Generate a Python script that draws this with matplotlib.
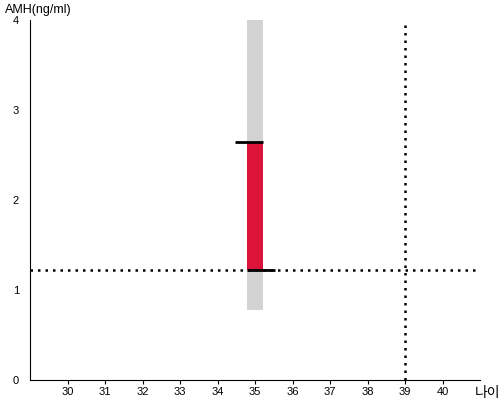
import matplotlib.pyplot as plt

plt.rcParams['font.family'] = ['Liberation Sans', 'Noto Sans CJK KR', 'DejaVu Sans']

# data
age = 35
range_low = 0.78
range_high = 4.0
amh_low = 1.22
amh_high = 2.65
ref_age = 39
ref_amh = 1.22
x_ticks = list(range(30, 41))
y_ticks = [0, 1, 2, 3, 4]

fig = plt.figure(figsize=(5, 4), dpi=100)
ax = fig.add_axes([0.06, 0.05, 0.90, 0.90])

w = 0.43
ax.bar(age, range_high - range_low, bottom=range_low, width=w, color='#d3d3d3', zorder=1)
ax.bar(age, amh_high - amh_low, bottom=amh_low, width=w, color='#dc143c', zorder=2)
ax.hlines(amh_high, age - w / 2 - 0.32, age + w / 2, color='black', lw=2, zorder=3)
ax.hlines(amh_low, age - w / 2, age + w / 2 + 0.32, color='black', lw=2, zorder=3)

ax.axhline(ref_amh, color='black', lw=1.8, ls=(0, (1, 2)), zorder=2)
ax.axvline(ref_age, color='black', lw=1.8, ls=(0, (1, 2)), zorder=2)

ax.set_xlim(29, 41)
ax.set_ylim(0, 4)
ax.set_xticks(x_ticks)
ax.set_yticks(y_ticks)
ax.tick_params(axis='x', length=3, labelsize=8, pad=2)
ax.tick_params(axis='y', length=0, labelsize=8, pad=8)
ax.spines['top'].set_visible(False)
ax.spines['right'].set_visible(False)

fig.text(0.01, 0.975, 'AMH(ng/ml)', fontsize=9, va='center', ha='left')
fig.text(0.95, 0.008, '나이', fontsize=10, va='baseline', ha='left')

fig.savefig('out.png')
